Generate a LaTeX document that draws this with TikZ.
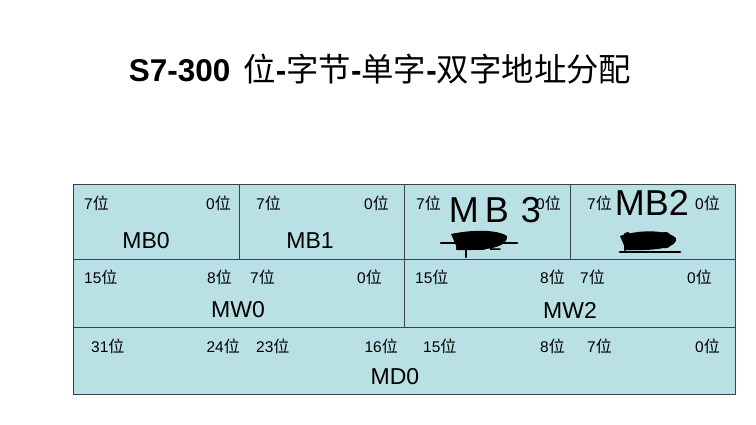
\documentclass[tikz,border=0pt]{standalone}
\usepackage{fontspec}
\setmainfont{Liberation Sans}
\newfontfamily\cjk{Noto Sans CJK SC}
\definecolor{cellblue}{RGB}{185,224,228}
\definecolor{cellline}{RGB}{64,64,64}
\newcommand{\wei}[1]{#1{\cjk\fontsize{16}{16}\selectfont 位}}

\begin{document}
\begin{tikzpicture}[x=1pt,y=-1pt,
  cell/.style={draw=cellline,fill=cellblue,line width=0.8pt,inner sep=0pt},
  bit/.style={font=\fontsize{15.5}{16}\selectfont,inner sep=0pt},
  regname/.style={font=\fontsize{23}{23}\selectfont,inner sep=0pt},
  hand/.style={font=\fontsize{36}{36}\selectfont,inner sep=0pt},
  scrib/.style={line width=2.8pt,line cap=round,line join=round}]
\useasboundingbox (0,0) rectangle (756,424);

\node[inner sep=0pt] (title) at (380,69)
  {\fontsize{31.5}{34}\selectfont\textbf{S7-300}\hspace{13pt}%
   {\cjk\fontsize{32.4}{34}\selectfont 位}\textbf{-}{\cjk\fontsize{32.4}{34}\selectfont 字节}\textbf{-}%
   {\cjk\fontsize{32.4}{34}\selectfont 单字}\textbf{-}{\cjk\fontsize{32.4}{34}\selectfont 双字地址分配}};

% byte row
\node[cell,minimum width=166pt,minimum height=75pt] (mb0) at (156,221.5) {};
\node[cell,minimum width=165pt,minimum height=75pt] (mb1) at (321.5,221.5) {};
\node[cell,minimum width=166pt,minimum height=75pt] (mb2) at (487,221.5) {};
\node[cell,minimum width=165pt,minimum height=75pt] (mb3) at (652.5,221.5) {};

\node[bit,anchor=west] (mb0h) at (84,203) {\wei{7}};
\node[bit,anchor=east] (mb0l) at (231,203) {\wei{0}};
\node[bit,anchor=west] (mb1h) at (256,203) {\wei{7}};
\node[bit,anchor=east] (mb1l) at (389,203) {\wei{0}};
\node[bit,anchor=west] (mb2h) at (416,203) {\wei{7}};
\node[bit,anchor=east] (mb2l) at (561,203) {\wei{0}};
\node[bit,anchor=west] (mb3h) at (587,203) {\wei{7}};
\node[bit,anchor=east] (mb3l) at (720,203) {\wei{0}};

\node[regname] (mb0n) at (146,241) {MB0};
\node[regname] (mb1n) at (310,241) {MB1};
\node[regname] (mb2n) at (478,242) {MB2};
\node[regname] (mb3n) at (648,241) {MB3};

% word row
\node[cell,minimum width=331pt,minimum height=68pt] (mw0) at (238.5,293) {};
\node[cell,minimum width=331pt,minimum height=68pt] (mw2) at (569.5,293) {};

\node[bit,anchor=west] (mw0a) at (84,277) {\wei{15}};
\node[bit,anchor=east] (mw0b) at (232,277) {\wei{8}};
\node[bit,anchor=west] (mw0c) at (250,277) {\wei{7}};
\node[bit,anchor=east] (mw0d) at (382,277) {\wei{0}};
\node[bit,anchor=west] (mw2a) at (415,277) {\wei{15}};
\node[bit,anchor=east] (mw2b) at (565,277) {\wei{8}};
\node[bit,anchor=west] (mw2c) at (580,277) {\wei{7}};
\node[bit,anchor=east] (mw2d) at (712,277) {\wei{0}};

\node[regname] (mw0n) at (238,310) {MW0};
\node[regname] (mw2n) at (570,310) {MW2};

% double word row
\node[cell,minimum width=662pt,minimum height=67pt] (md0) at (404,360.5) {};

\node[bit,anchor=west] (md0a) at (91,346) {\wei{31}};
\node[bit,anchor=east] (md0b) at (240,346) {\wei{24}};
\node[bit,anchor=west] (md0c) at (256,346) {\wei{23}};
\node[bit,anchor=east] (md0d) at (398,346) {\wei{16}};
\node[bit,anchor=west] (md0e) at (423,346) {\wei{15}};
\node[bit,anchor=east] (md0f) at (565,346) {\wei{8}};
\node[bit,anchor=west] (md0g) at (587,346) {\wei{7}};
\node[bit,anchor=east] (md0h) at (720,346) {\wei{0}};

\node[regname] (md0n) at (395,377) {MD0};

% handwritten corrections
\node[hand] (fix2) at (495,210) {M\hspace{6pt}B\hspace{12pt}3};
\node[hand] (fix3) at (652,203) {MB2};

\fill (451,234) .. controls (475,229) and (498,230) .. (507,236)
  .. controls (508,245) and (495,251) .. (458,250) -- cycle;
\draw[scrib] (441,243) -- (517,243);
\draw[scrib] (466,236) -- (466,257);
\fill (620,236) .. controls (640,229) and (668,230) .. (676,238)
  .. controls (678,247) and (660,251) .. (626,250) -- cycle;
\draw[scrib] (625,234) -- (625,250);
\draw[scrib] (620,252) -- (680,252);
\end{tikzpicture}
\end{document}
